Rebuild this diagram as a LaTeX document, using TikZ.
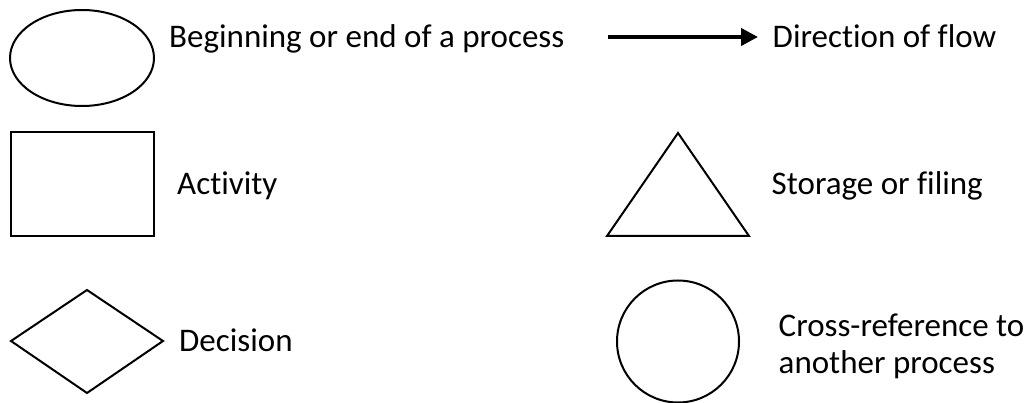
\documentclass[tikz,border=0pt]{standalone}
\usepackage{fontspec}
\setmainfont{Carlito}[Ligatures=NoCommon]
\usetikzlibrary{arrows.meta}

\tikzset{
    legendtext/.style={anchor=base west, inner sep=0pt, font=\fontsize{33}{39}\selectfont},
    symbol/.style={line width=2pt},
    flowarrow/.style={line width=4pt, -{Triangle[length=17pt, width=17pt]}},
}

\begin{document}
\begin{tikzpicture}[x=1pt, y=-1pt]
    \useasboundingbox (0,0) rectangle (1029,403);

    % left column
    \draw[symbol] (82,58) ellipse [x radius=72, y radius=48];
    \node[legendtext] (beginend) at (169,47.5) {Beginning or end of a process};

    \draw[symbol, line width=2.5pt] (11,132) rectangle (154,236);
    \node[legendtext] (activity) at (177,195) {Activity};

    \draw[symbol] (11,341) -- (87,290) -- (163,341) -- (87,393) -- cycle;
    \node[legendtext] (decision) at (179,352) {Decision};

    % right column
    \coordinate (flowstart) at (608,37);
    \node[legendtext] (flowlbl) at (772.5,47.7) {Direction of flow};
    \draw[flowarrow, shorten >=14.5pt] (flowstart) -- (flowstart -| flowlbl.west);

    \draw[symbol] (678,133) -- (749,236) -- (607,236) -- cycle;
    \node[legendtext] (storage) at (771.5,195) {Storage or filing};

    \draw[symbol] (678,341.5) circle [radius=61];
    \node[legendtext] (xrefa) at (778.5,337) {Cross-reference to};
    \node[legendtext] (xrefb) at (778.5,374) {another process};
\end{tikzpicture}
\end{document}
